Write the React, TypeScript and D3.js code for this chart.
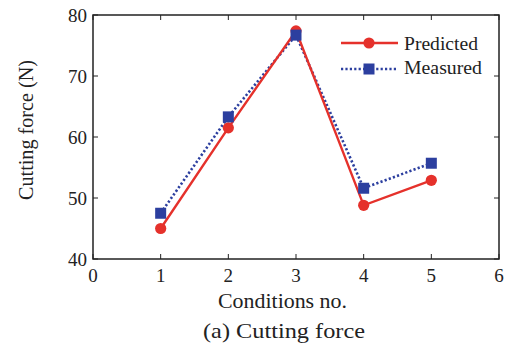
import React from "react";
import * as d3 from "d3";

const conditions = [1, 2, 3, 4, 5];
const predicted = [45.0, 61.5, 77.4, 48.8, 52.9];
const measured = [47.5, 63.3, 76.7, 51.6, 55.7];
const xTicks = [0, 1, 2, 3, 4, 5, 6];
const yTicks = [40, 50, 60, 70, 80];

const W = 507, H = 348;
const m = { left: 93, right: 499, top: 15, bottom: 259 };
const RED = "#e5312b";
const BLUE = "#2c3f9f";
const FONT = "'Liberation Serif', 'Times New Roman', serif";

export default function App() {
  const x = d3.scaleLinear().domain([0, 6]).range([m.left, m.right]);
  const y = d3.scaleLinear().domain([40, 80]).range([m.bottom, m.top]);
  const line = d3.line<number>().x((_, i) => x(conditions[i])).y((d) => y(d));
  const tl = 5;
  return (
    <svg width={W} height={H} style={{ position: "absolute", left: 0, top: 0 }} fontFamily={FONT}>
      <rect width={W} height={H} fill="#fff" />
      {xTicks.map((t) => (
        <g key={"x" + t}>
          <line x1={x(t)} x2={x(t)} y1={m.bottom} y2={m.bottom - tl} stroke="#222" strokeWidth={1} />
          <line x1={x(t)} x2={x(t)} y1={m.top} y2={m.top + tl} stroke="#222" strokeWidth={1} />
          <text x={x(t)} y={m.bottom + 23} textAnchor="middle" fontSize={19} fill="#222">{t}</text>
        </g>
      ))}
      {yTicks.map((t) => (
        <g key={"y" + t}>
          <line x1={m.left} x2={m.left + tl} y1={y(t)} y2={y(t)} stroke="#222" strokeWidth={1} />
          <line x1={m.right} x2={m.right - tl} y1={y(t)} y2={y(t)} stroke="#222" strokeWidth={1} />
          <text x={m.left - 6} y={y(t) + 6.5} textAnchor="end" fontSize={19} textLength={19} lengthAdjust="spacingAndGlyphs" fill="#222">{t}</text>
        </g>
      ))}
      <rect x={m.left} y={m.top} width={m.right - m.left} height={m.bottom - m.top} fill="none" stroke="#222" strokeWidth={1.5} />
      <path d={line(measured) || ""} fill="none" stroke={BLUE} strokeWidth={2.6} strokeDasharray="2.2 2.2" />
      <path d={line(predicted) || ""} fill="none" stroke={RED} strokeWidth={2.4} />
      {predicted.map((v, i) => (
        <circle key={"p" + i} cx={x(conditions[i])} cy={y(v)} r={5.6} fill={RED} />
      ))}
      {measured.map((v, i) => (
        <rect key={"m" + i} x={x(conditions[i]) - 5.5} y={y(v) - 5.5} width={11} height={11} fill={BLUE} />
      ))}
      <line x1={341} x2={398} y1={43} y2={43} stroke={RED} strokeWidth={2.4} />
      <circle cx={369} cy={43} r={5.6} fill={RED} />
      <text x={404} y={50} fontSize={19} fill="#222" textLength={74} lengthAdjust="spacingAndGlyphs">Predicted</text>
      <line x1={341} x2={398} y1={69} y2={69} stroke={BLUE} strokeWidth={2.6} strokeDasharray="2.2 2.2" />
      <rect x={363.5} y={63.5} width={11} height={11} fill={BLUE} />
      <text x={404} y={74} fontSize={19} fill="#222" textLength={78} lengthAdjust="spacingAndGlyphs">Measured</text>
      <text x={218} y={308} fontSize={20} textLength={129} lengthAdjust="spacingAndGlyphs" fill="#222">Conditions no.</text>
      <text transform={`translate(33, 200) rotate(-90)`} fontSize={20} textLength={140} lengthAdjust="spacingAndGlyphs" fill="#222">Cutting force (N)</text>
      <text x={203} y={338} fontSize={21} textLength={162} lengthAdjust="spacingAndGlyphs" fill="#222">(a) Cutting force</text>
    </svg>
  );
}
